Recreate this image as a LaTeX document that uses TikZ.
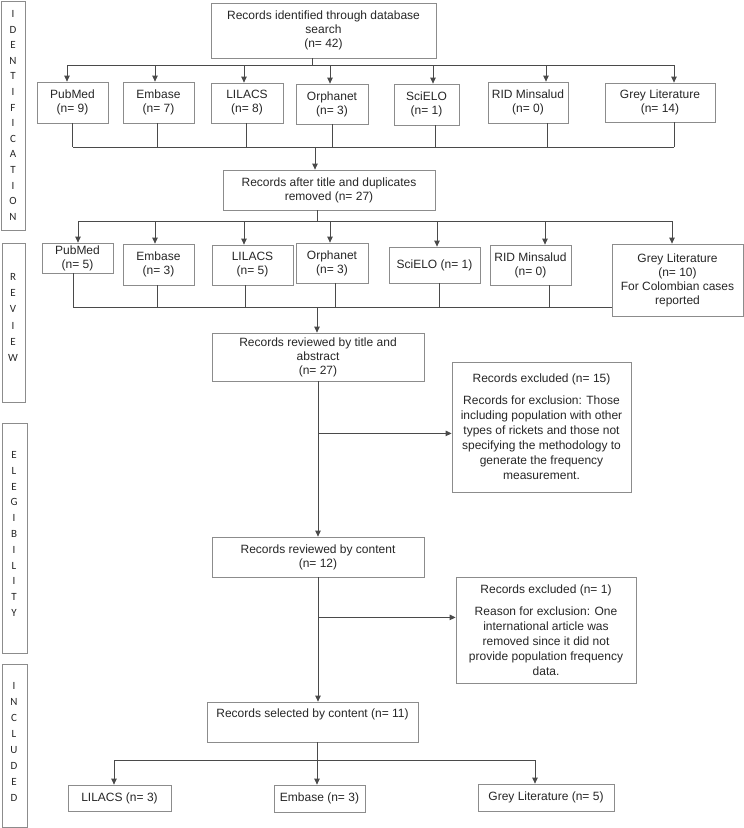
\documentclass[tikz,border=0pt]{standalone}
\usepackage{fontspec}
\setmainfont{Liberation Sans}
\newfontfamily\sidefont{Carlito}
\usetikzlibrary{arrows.meta,calc}
\definecolor{boxgray}{HTML}{8C8C8C}
\definecolor{linegray}{HTML}{4A4A4A}

\begin{document}
\begin{tikzpicture}[x=1pt,y=-1pt,
    box/.style={draw=boxgray, line width=0.8pt, align=center, inner sep=2pt, font=\fontsize{12}{14}\selectfont, text=black!85},
    exbox/.style={box, font=\fontsize{12}{15}\selectfont},
    line/.style={draw=linegray, line width=0.8pt},
    arr/.style={line, -{Triangle[length=6pt,width=5.5pt]}},
    sidebox/.style={draw=boxgray, line width=0.8pt},
    side/.style={font=\sidefont\fontsize{11}{11}\selectfont, inner sep=0pt, text=black!85}]
  \useasboundingbox (0,0) rectangle (744,828);

  % phase labels on the left
  \draw[sidebox] (1,1) rectangle (25,230);
  \draw[sidebox] (2,243) rectangle (25,402);
  \draw[sidebox] (2,423) rectangle (27,653);
  \draw[sidebox] (2,664) rectangle (27,827);
  \foreach \l [count=\i] in {I,D,E,N,T,I,F,I,C,A,T,I,O,N}
    \node[side] (id\i) at (13,{14+15.6*(\i-1)}) {\l};
  \foreach \l [count=\i] in {R,E,V,I,E,W}
    \node[side] (rv\i) at (13,{277+16.2*(\i-1)}) {\l};
  \foreach \l [count=\i] in {E,L,E,G,I,B,I,L,I,T,Y}
    \node[side] (el\i) at (14,{455+15.8*(\i-1)}) {\l};
  \foreach \l [count=\i] in {I,N,C,L,U,D,E,D}
    \node[side] (in\i) at (14,{686+16*(\i-1)}) {\l};

  % identification
  \node[box, minimum width=225pt, minimum height=55pt] (srch) at (323.5,30.5) {Records identified through database\\search\\(n= 42)};
  \node[box, minimum width=71pt, minimum height=41pt] (pm1) at (72.5,102.5) {PubMed\\(n= 9)};
  \node[box, minimum width=71pt, minimum height=41pt] (em1) at (158.5,102.5) {Embase\\(n= 7)};
  \node[box, minimum width=72pt, minimum height=40pt] (li1) at (247,103) {LILACS\\(n= 8)};
  \node[box, minimum width=72pt, minimum height=40pt] (or1) at (332,104) {Orphanet\\(n= 3)};
  \node[box, minimum width=65pt, minimum height=41pt] (sc1) at (426.5,104.5) {SciELO\\(n= 1)};
  \node[box, minimum width=80pt, minimum height=41pt] (ri1) at (528,102.5) {RID Minsalud\\(n= 0)};
  \node[box, minimum width=110pt, minimum height=39pt] (gr1) at (660,102.5) {Grey Literature\\(n= 14)};

  \coordinate (h1) at (312,65);
  \coordinate (h2) at (315,147);
  \draw[line] (srch.south -| h1) -- (h1);
  \foreach \b/\s/\t in {pm1/-5.5/0,em1/-3.5/-1.5,li1/-3/-1,or1/-2/0,sc1/6.5/8.5,ri1/18/19,gr1/14/14} {
    \coordinate (t\b) at ([xshift=\s pt]\b.north);
    \coordinate (u\b) at ([xshift=\t pt]\b.south);
    \draw[arr] (t\b |- h1) -- (t\b);
    \draw[line] (u\b) -- (u\b |- h2);
  }
  \draw[line] (tpm1 |- h1) -- (tgr1 |- h1);
  \draw[line] (upm1 |- h2) -- (ugr1 |- h2);

  \node[box, minimum width=212pt, minimum height=40pt] (dup) at (329,190) {Records after title and duplicates\\removed (n= 27)};
  \draw[arr] (h2) -- (h2 |- dup.north);

  % review
  \node[box, minimum width=71pt, minimum height=30pt] (pm2) at (77.5,258) {PubMed\\(n= 5)};
  \node[box, minimum width=71pt, minimum height=41pt] (em2) at (158.5,264.5) {Embase\\(n= 3)};
  \node[box, minimum width=81pt, minimum height=40pt] (li2) at (252.5,265) {LILACS\\(n= 5)};
  \node[box, minimum width=72pt, minimum height=40pt] (or2) at (332,263) {Orphanet\\(n= 3)};
  \node[box, minimum width=91pt, minimum height=36pt] (sc2) at (434.5,265) {SciELO (n= 1)};
  \node[box, minimum width=81pt, minimum height=40pt] (ri2) at (530.5,265) {RID Minsalud\\(n= 0)};
  \node[box, minimum width=131pt, minimum height=72pt] (gr2) at (677.5,280) {Grey Literature\\(n= 10)\\For Colombian cases\\reported};

  \coordinate (h3) at (317,221);
  \coordinate (h4) at (317,307);
  \draw[line] (dup.south -| h3) -- (h3);
  \foreach \b/\s in {pm2/0.5,em2/-3.5,li2/-8.5,or2/-2,sc2/2.5,ri2/14.5,gr2/-5.5} {
    \coordinate (t\b) at ([xshift=\s pt]\b.north);
    \draw[arr] (t\b |- h3) -- (t\b);
  }
  \draw[line] (tpm2 |- h3) -- (tgr2 |- h3);
  \foreach \b/\t in {pm2/-4.5,em2/-1.5,li2/-7.5,or2/3,sc2/4.5,ri2/18.5} {
    \coordinate (u\b) at ([xshift=\t pt]\b.south);
    \draw[line] (u\b) -- (u\b |- h4);
  }
  \draw[line] (upm2 |- h4) -- (h4 -| gr2.west);

  \node[box, minimum width=212pt, minimum height=48pt] (ttl) at (318,357) {Records reviewed by title and\\abstract\\(n= 27)};
  \draw[arr] (h4) -- (h4 |- ttl.north);

  % eligibility
  \node[exbox, minimum width=179pt, minimum height=130pt] (ex1) at (541.5,427) {Records excluded (n= 15)\\[7pt]Records for exclusion: Those\\including population with other\\types of rickets and those not\\specifying the methodology to\\generate the frequency\\measurement.};
  \node[box, minimum width=212pt, minimum height=40pt] (cnt) at (318,557) {Records reviewed by content\\(n= 12)};
  \node[exbox, minimum width=180pt, minimum height=106pt] (ex2) at (546,630) {Records excluded (n= 1)\\[7pt]Reason for exclusion: One\\international article was\\removed since it did not\\provide population frequency\\data.};

  \path (ttl.south) ++(0,52) coordinate (b1);
  \path (cnt.south) ++(0,40) coordinate (b2);
  \draw[arr] (ttl.south) -- (ttl.south |- cnt.north);
  \draw[arr] (b1) -- (b1 -| ex1.west);

  % included
  \node[box, minimum width=211pt, minimum height=40pt] (sel) at (312.5,722) {Records selected by content (n= 11)\\\strut};
  \draw[arr] (cnt.south) -- (cnt.south |- sel.north);
  \draw[arr] (b2) -- (b2 -| ex2.west);

  \node[box, minimum width=103pt, minimum height=26pt] (in1) at (119.5,798) {LILACS (n= 3)};
  \node[box, minimum width=91pt, minimum height=27pt] (in2) at (319.5,798.5) {Embase (n= 3)};
  \node[box, minimum width=136pt, minimum height=27pt] (in3) at (546,797.5) {Grey Literature (n= 5)};

  \coordinate (h5) at (317,760);
  \draw[line] (sel.south -| h5) -- (h5);
  \foreach \b/\s in {in1/-5.5,in2/-2.5,in3/-11} {
    \coordinate (t\b) at ([xshift=\s pt]\b.north);
    \draw[arr] (t\b |- h5) -- (t\b);
  }
  \draw[line] (tin1 |- h5) -- (tin3 |- h5);
\end{tikzpicture}
\end{document}
